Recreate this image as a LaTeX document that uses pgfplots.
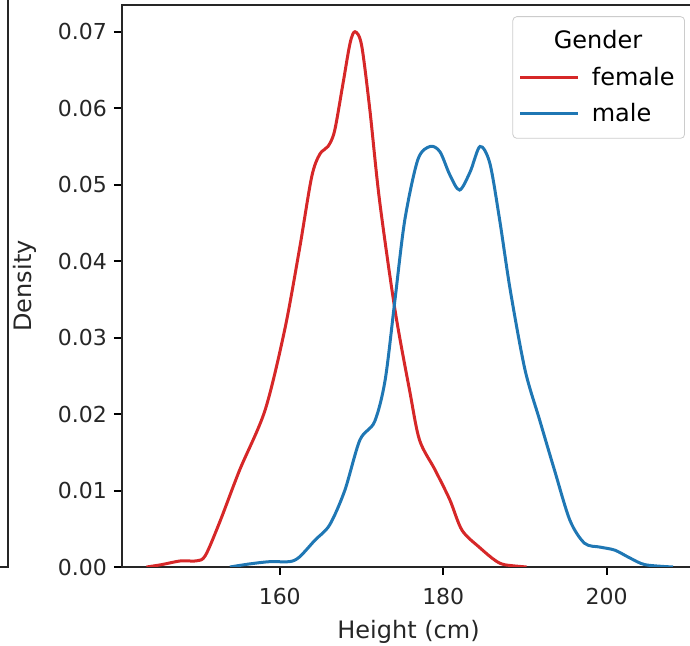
\documentclass[border=0pt]{standalone}
\usepackage{fontspec}
\setmainfont{DejaVu Sans}
\usepackage{pgfplots}
\pgfplotsset{compat=1.18}

\definecolor{tabred}{HTML}{D62728}
\definecolor{tabblue}{HTML}{1F77B4}

\begin{document}
\begin{tikzpicture}
\useasboundingbox (-61pt,-39.5pt) rectangle (284pt,283.5pt);
\clip (-61pt,-39.5pt) rectangle (284pt,283.5pt);
% edge of the neighbouring panel
\draw[line width=1pt, black!85] (-61pt,0pt) -- (-57pt,0pt) -- (-57pt,290pt);
\begin{axis}[
  at={(0pt,0pt)}, anchor=origin,
  scale only axis, width=286.5pt, height=281pt,
  xmin=140.7, xmax=210.8, ymin=0, ymax=0.0735,
  xtick={160,180,200},
  ytick={0,0.01,...,0.07},
  scaled y ticks=false,
  y tick label style={/pgf/number format/fixed, /pgf/number format/fixed zerofill, /pgf/number format/precision=2},
  /pgf/number format/assume math mode=true,
  xtick pos=bottom, ytick pos=left,
  tick align=outside, major tick length=4pt,
  every tick/.style={black, line width=1pt},
  axis line style={line width=1pt, black!85},
  ticklabel style={font=\fontsize{11}{13}\selectfont, black!85},
  x tick label style={yshift=-3pt},
  label style={font=\fontsize{12}{14}\selectfont, black!85},
  xlabel={Height (cm)},
  ylabel={Density},
  xlabel style={at={([yshift=-32.5pt]axis description cs:0.5,0)}, anchor=center},
  ylabel style={at={([xshift=-48.5pt]axis description cs:0,0.5)}, anchor=center},
  legend cell align=left,
  legend image code/.code={\draw[#1, line width=1.5pt] (0pt,0pt) -- (29pt,0pt);},
  legend style={at={(0.9825,0.98)}, anchor=north east,
    draw=black!20, rounded corners=2pt, fill=white,
    font=\fontsize{12}{14}\selectfont, row sep=3.5pt, column sep=4pt,
    inner xsep=3pt, inner ysep=5pt},
]
\addlegendimage{empty legend}
\addlegendentry{\hspace*{-19pt}{\fontsize{12}{14}\selectfont Gender}}

\addplot[tabred, line width=1.5pt, smooth] coordinates {
(143.7,0) (145.5,0.0003) (147.9,0.0008) (149.8,0.0008) (150.9,0.0015)
(152.7,0.006) (155.1,0.0127) (158.2,0.0205) (160.6,0.031) (162.4,0.0415)
(163.9,0.051) (164.9,0.054) (165.9,0.055) (166.7,0.057) (167.7,0.063)
(168.6,0.0685) (169.2,0.070) (170.0,0.0683) (171.0,0.060) (172.2,0.048)
(174.1,0.0336) (175.9,0.023) (177.1,0.0166) (179.0,0.0127) (180.8,0.0088)
(182.3,0.0048) (184.5,0.0025) (186.3,0.0009) (187.5,0.0003) (190.2,0)
};
\addlegendentry{female}

\addplot[tabblue, line width=1.5pt, smooth] coordinates {
(153.9,0) (156.3,0.0004) (158.8,0.0007) (161.2,0.0007) (162.4,0.0013)
(164.3,0.0035) (166.1,0.0055) (167.95,0.010) (169.8,0.0166) (171.6,0.019)
(172.9,0.0245) (174.1,0.035) (175.3,0.0454) (176.9,0.0533) (178.4,0.055)
(179.6,0.0543) (180.8,0.0513) (182.0,0.0493) (183.3,0.0517) (184.5,0.055)
(185.7,0.0528) (186.9,0.0454) (188.2,0.0362) (190.0,0.0258) (191.8,0.0192)
(193.6,0.0127) (195.5,0.0061) (197.3,0.0031) (199.2,0.0026) (201.0,0.0022)
(202.8,0.0012) (204.7,0.0003) (208.1,0)
};
\addlegendentry{male}
\end{axis}
\end{tikzpicture}
\end{document}
